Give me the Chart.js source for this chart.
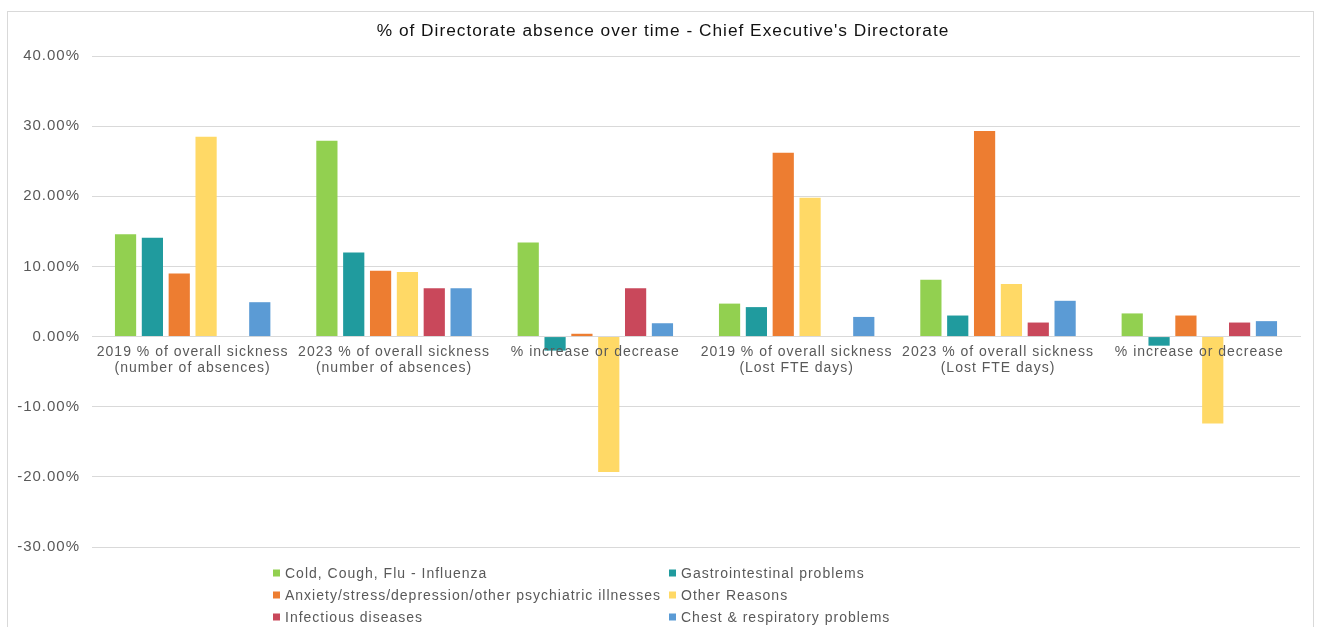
<!DOCTYPE html>
<html>
<head>
<meta charset="utf-8">
<title>% of Directorate absence over time - Chief Executive's Directorate</title>
<script src="https://cdn.jsdelivr.net/npm/chart.js"></script>
<style>
  html, body { margin: 0; padding: 0; background: #fff; }
  #wrap { width: 1320px; height: 627px; }
</style>
</head>
<body>
<div id="wrap"><canvas id="absence" width="1320" height="627"></canvas></div>
<script>
// Categories (two-line labels where the axis wraps them)
const categories = [
  ["2019 % of overall sickness", "(number of absences)"],
  ["2023 % of overall sickness", "(number of absences)"],
  "% increase or decrease",
  ["2019 % of overall sickness", "(Lost FTE days)"],
  ["2023 % of overall sickness", "(Lost FTE days)"],
  "% increase or decrease"
];

// Share of sickness per reason, in percent
const coldCoughFlu  = [14.6, 27.9, 13.4, 4.7, 8.1, 3.3];
const gastro        = [14.1, 12.0, -2.0, 4.2, 3.0, -1.3];
const anxietyStress = [9.0, 9.4, 0.4, 26.2, 29.3, 3.0];
const otherReasons  = [28.5, 9.2, -19.3, 19.8, 7.5, -12.4];
const infectious    = [null, 6.9, 6.9, null, 2.0, 2.0];
const chestResp     = [4.9, 6.9, 1.9, 2.8, 5.1, 2.2];

const seriesNames = [
  "Cold, Cough, Flu - Influenza",
  "Gastrointestinal problems",
  "Anxiety/stress/depression/other psychiatric illnesses",
  "Other Reasons",
  "Infectious diseases",
  "Chest & respiratory problems"
];

// Value axis ticks
const yTicks = [-30, -20, -10, 0, 10, 20, 30, 40];

const seriesValues = [coldCoughFlu, gastro, anxietyStress, otherReasons, infectious, chestResp];
const seriesColors = ["#92D050", "#209B9E", "#ED7D31", "#FFD966", "#C9485B", "#5B9BD5"];

const FONT = "'Liberation Sans', Arial, Helvetica, sans-serif";
const TEXT_GREY = "#595959";

// Outer frame, slightly spaced lettering, title centred over the framed area
const framePlugin = {
  id: "frame",
  beforeLayout(chart) { chart.ctx.letterSpacing = "1px"; },
  afterLayout(chart) {
    if (chart.titleBlock) chart.titleBlock.left = 26;
  },
  beforeDraw(chart) {
    const ctx = chart.ctx;
    ctx.save();
    ctx.fillStyle = "#ffffff";
    ctx.fillRect(0, 0, chart.width, chart.height);
    ctx.strokeStyle = "#d9d9d9";
    ctx.lineWidth = 1;
    ctx.strokeRect(7.5, 11.5, 1306, 640);
    ctx.restore();
    ctx.letterSpacing = "1px";
  }
};

// Two-column legend under the plot
const gridLegend = {
  id: "gridLegend",
  afterDraw(chart) {
    const ctx = chart.ctx;
    const cols = [273, 669];
    const rows = [573, 595, 617];
    ctx.save();
    ctx.letterSpacing = "1px";
    ctx.font = "14px " + FONT;
    ctx.textBaseline = "middle";
    ctx.textAlign = "left";
    chart.data.datasets.forEach((ds, i) => {
      const x = cols[i % 2];
      const y = rows[Math.floor(i / 2)];
      ctx.fillStyle = ds.backgroundColor;
      ctx.fillRect(x, y - 3.5, 7, 7);
      ctx.fillStyle = TEXT_GREY;
      ctx.fillText(ds.label, x + 12, y + 1);
    });
    ctx.restore();
  }
};

new Chart(document.getElementById("absence"), {
  type: "bar",
  data: {
    labels: categories,
    datasets: seriesNames.map((name, i) => ({
      label: name,
      data: seriesValues[i],
      backgroundColor: seriesColors[i],
      borderWidth: 0,
      categoryPercentage: 0.8,
      barPercentage: 0.79
    }))
  },
  plugins: [framePlugin, gridLegend],
  options: {
    responsive: false,
    animation: false,
    layout: { padding: { left: 0, right: 20, top: 0, bottom: 80 } },
    plugins: {
      legend: { display: false },
      tooltip: { enabled: false },
      title: {
        display: true,
        text: "% of Directorate absence over time - Chief Executive's Directorate",
        color: "#111111",
        font: { family: FONT, size: 17.3, weight: "normal", lineHeight: 1.2 },
        padding: { top: 21, bottom: 14.24 }
      }
    },
    scales: {
      x: {
        position: { y: 0 },
        grid: { display: false, drawTicks: false },
        border: { display: true, color: "#d9d9d9", width: 1 },
        ticks: {
          z: 1,
          color: TEXT_GREY,
          font: { family: FONT, size: 14, lineHeight: 1.1 },
          padding: 8,
          maxRotation: 0,
          autoSkip: false
        }
      },
      y: {
        min: -30,
        max: 40,
        afterBuildTicks(scale) { scale.ticks = yTicks.map(v => ({ value: v })); },
        afterFit(scale) { scale.width = 92; },
        grid: { color: "#d9d9d9", lineWidth: 1, drawTicks: false },
        border: { display: false },
        ticks: {
          color: TEXT_GREY,
          font: { family: FONT, size: 15 },
          padding: 12,
          callback: v => v.toFixed(2) + "%"
        }
      }
    }
  }
});
</script>
</body>
</html>
